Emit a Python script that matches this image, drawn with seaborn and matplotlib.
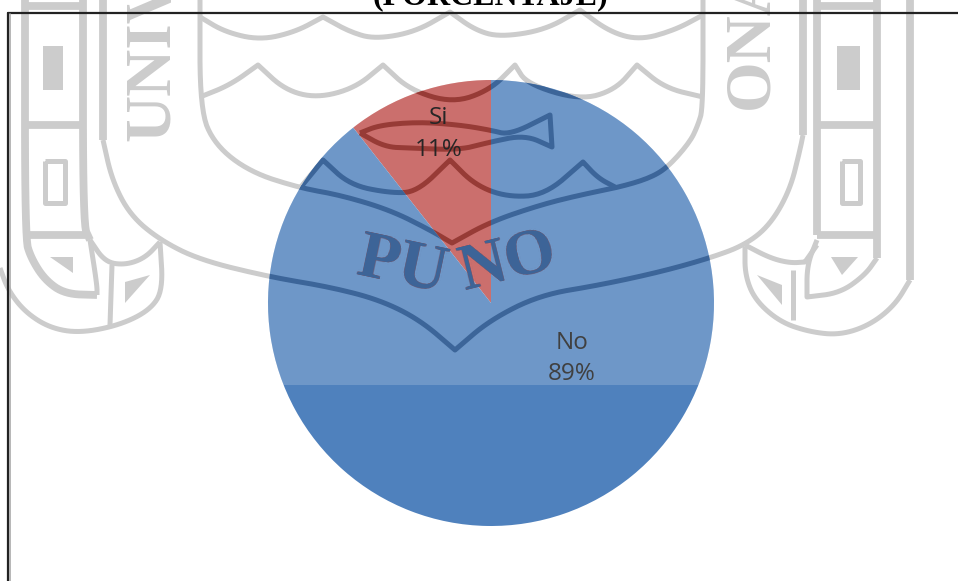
import matplotlib

matplotlib.use("Agg")
import matplotlib.pyplot as plt
import numpy as np
import seaborn as sb
from matplotlib.patches import Polygon, Rectangle

# data
categories = ["Si", "No"]
values = [10.6, 89.4]
shown_pct = ["11%", "89%"]
title_text = "(PORCENTAJE)"

# watermark (page background, image pixels), thick bands
wm_thick = [
    [(25, 0), (25, 238), (31, 258), (45, 280), (65, 294), (97, 295)],
    [(83, 0), (83, 225), (90, 240)],
    [(25, 6), (83, 6)],
    [(25, 125), (83, 125)],
    [(25, 235), (85, 235)],
    [(103, 0), (103, 140)],
    [(817, 0), (817, 235)],
    [(877, 0), (877, 258)],
    [(910, 0), (910, 280)],
    [(817, 6), (877, 6)],
    [(817, 125), (877, 125)],
    [(817, 235), (877, 235)],
    [(803, 0), (803, 135)],
]
# thinner curves, these also show through the pie
wm_thin = [
    [(90, 240), (105, 262), (125, 265), (145, 258), (160, 242)],
    [(97, 295), (97, 285), (90, 240)],
    [(160, 242), (163, 290), (150, 310), (120, 325), (80, 333), (50, 328), (25, 312), (8, 290), (0, 268)],
    [(112, 265), (110, 325)],
    [(103, 140), (112, 180), (130, 215), (160, 240), (200, 260), (270, 277), (330, 287), (380, 300),
     (420, 320), (455, 350), (490, 320), (540, 295), (600, 285), (660, 272), (710, 258), (745, 245),
     (770, 225), (790, 190), (800, 150), (803, 135)],
    [(200, 0), (200, 110), (215, 145), (250, 172), (300, 188), (340, 195), (390, 210), (430, 230),
     (452, 243), (490, 222), (540, 205), (580, 195), (620, 187), (650, 178), (668, 167), (690, 142),
     (698, 125), (703, 108), (703, 0)],
    [(200, 17), (225, 32), (260, 40), (295, 32), (323, 17), (350, 32), (375, 39), (415, 32), (450, 12),
     (475, 30), (500, 37), (545, 30), (580, 10), (610, 32), (640, 40), (675, 30), (703, 15)],
    [(200, 97), (230, 85), (258, 65), (285, 90), (317, 98), (355, 88), (383, 65), (410, 90), (453, 103),
     (490, 90), (515, 65), (527, 84), (580, 100), (615, 90), (637, 65), (665, 88), (703, 97)],
    [(300, 188), (323, 160), (350, 185), (390, 193), (417, 192), (450, 160), (475, 185), (507, 197),
     (545, 195), (583, 162), (598, 178), (615, 187)],
    [(360, 133), (380, 125), (420, 122), (460, 125), (490, 130), (510, 135), (550, 115), (552, 147),
     (525, 135), (490, 142), (460, 150), (410, 148), (385, 147), (360, 133)],
    [(877, 258), (865, 275), (840, 293), (807, 297), (807, 265), (817, 240)],
    [(910, 280), (895, 305), (870, 325), (840, 335), (810, 332), (780, 322), (755, 300), (745, 275), (745, 247)],
    [(745, 245), (770, 258), (790, 263), (805, 262), (817, 245)],
    [(793, 270), (793, 320)],
]
wm_solid = [
    [(43, 46), (63, 46), (63, 90), (43, 90)],
    [(837, 46), (860, 46), (860, 90), (837, 90)],
    [(50, 257), (73, 257), (73, 273)],
    [(125, 282), (150, 275), (125, 303)],
    [(831, 257), (858, 257), (842, 275)],
    [(757, 275), (782, 285), (782, 305)],
]
wm_hollow = [
    [(45, 161), (65, 161), (65, 203), (45, 203), (45, 161)],
    [(842, 161), (860, 161), (860, 203), (842, 203), (842, 161)],
]

WM_GRAY = "#cccccc"
BLUE_DARK = "#3c6599"
RED_DARK = "#973b36"


def chaikin(pts, rounds=3):
    for _ in range(rounds):
        q = 0.75 * pts[:-1] + 0.25 * pts[1:]
        r = 0.25 * pts[:-1] + 0.75 * pts[1:]
        mid = np.empty((2 * len(q), 2))
        mid[0::2] = q
        mid[1::2] = r
        pts = np.vstack((pts[0], mid, pts[-1]))
    return pts


def smooth(pts):
    # round the curve but keep the sharp peaks of the crest
    pts = np.array(pts, dtype=float)
    out = []
    start = 0
    for i in range(1, len(pts) - 1):
        a = pts[i] - pts[i - 1]
        b = pts[i + 1] - pts[i]
        turn = np.degrees(np.arccos(np.dot(a, b) / (np.linalg.norm(a) * np.linalg.norm(b))))
        if turn > 50:
            out.append(chaikin(pts[start:i + 1]))
            start = i
    out.append(chaikin(pts[start:]))
    return np.vstack(out)


def draw_path(ax, pts, color, lw, clip=None):
    pts = smooth(pts)
    line = ax.plot(pts[:, 0], pts[:, 1], color=color, lw=lw, solid_joinstyle="round", solid_capstyle="butt")[0]
    if clip is not None:
        line.set_clip_path(clip)


def draw_puno_text(ax, color, clip=None):
    t1 = ax.text(403, 267, "PU", rotation=-12, color=color, fontsize=49, fontweight="bold",
                 family="Liberation Serif", ha="center", va="center")
    t2 = ax.text(508, 262, "NO", rotation=14, color=color, fontsize=47, fontweight="bold",
                 family="Liberation Serif", ha="center", va="center")
    if clip is not None:
        t1.set_clip_path(clip)
        t2.set_clip_path(clip)
        t1.set_clip_on(True)
        t2.set_clip_on(True)


if __name__ == "__main__":
    sb.set_theme(style="white")
    fig = plt.figure(figsize=(9.58, 5.81), dpi=100, facecolor="white")

    # back layer in pixel coordinates: the watermark and title
    back = fig.add_axes([0, 0, 1, 1], zorder=1)
    back.set_xlim(0, 958)
    back.set_ylim(581, 0)
    back.set_axis_off()
    for p in wm_thick:
        draw_path(back, p, WM_GRAY, 5.6)
    for p in wm_thin + wm_hollow:
        draw_path(back, p, WM_GRAY, 3.6)
    for p in wm_solid:
        back.add_patch(Polygon(p, closed=True, color=WM_GRAY, lw=0))
    back.text(153, 141, "UNIV", rotation=90, color=WM_GRAY, fontsize=47, fontweight="bold",
              family="Liberation Serif", ha="center", va="bottom")
    back.text(751, 109, "ONAL", rotation=90, color=WM_GRAY, fontsize=47, fontweight="bold",
              family="Liberation Serif", ha="center", va="bottom")

    # the pie
    ax = fig.add_axes([(491 - 223) / 958, (581 - 303 - 223) / 581, 446 / 958, 446 / 581], zorder=2)
    colors = sb.color_palette(["#c0504d", "#4f81bd"])
    wedges, _ = ax.pie(values, colors=colors, startangle=90, counterclock=True, wedgeprops={"linewidth": 0})
    ax.set_xlim(-1, 1)
    ax.set_ylim(-1, 1)

    # front layer: pale band on the upper part, watermark through the pie, labels, frame
    front = fig.add_axes([0, 0, 1, 1], zorder=3)
    front.set_xlim(0, 958)
    front.set_ylim(581, 0)
    front.set_axis_off()
    for wedge, dark in zip(wedges, [RED_DARK, BLUE_DARK]):
        band = Rectangle((0, 0), 958, 385, facecolor="white", alpha=0.18, lw=0)
        front.add_patch(band)
        band.set_clip_path(wedge)
        for p in wm_thin:
            draw_path(front, p, dark, 3.6, clip=wedge)
        draw_puno_text(front, dark, clip=wedge)

    front.text(439, 118, categories[0], color="#262626", fontsize=17.5, family="Open Sans", ha="center", va="center")
    front.text(439, 150, shown_pct[0], color="#262626", fontsize=17.5, family="Open Sans", ha="center", va="center")
    front.text(572, 343, categories[1], color="#404040", fontsize=17.5, family="Open Sans", ha="center", va="center")
    front.text(572, 374, shown_pct[1], color="#404040", fontsize=17.5, family="Open Sans", ha="center", va="center")

    front.text(490, 4, title_text, color="black", fontsize=23, fontweight="bold", family="Liberation Serif",
               ha="center", va="baseline")

    # page frame
    front.plot([8, 958], [13, 13], color="#222222", lw=1.6)
    front.plot([8, 8], [13, 581], color="#222222", lw=1.6)
    front.plot([10.5, 10.5], [14, 581], color="#aaaaaa", lw=1.2)

    fig.savefig("out.png", dpi=100)
    plt.close()
